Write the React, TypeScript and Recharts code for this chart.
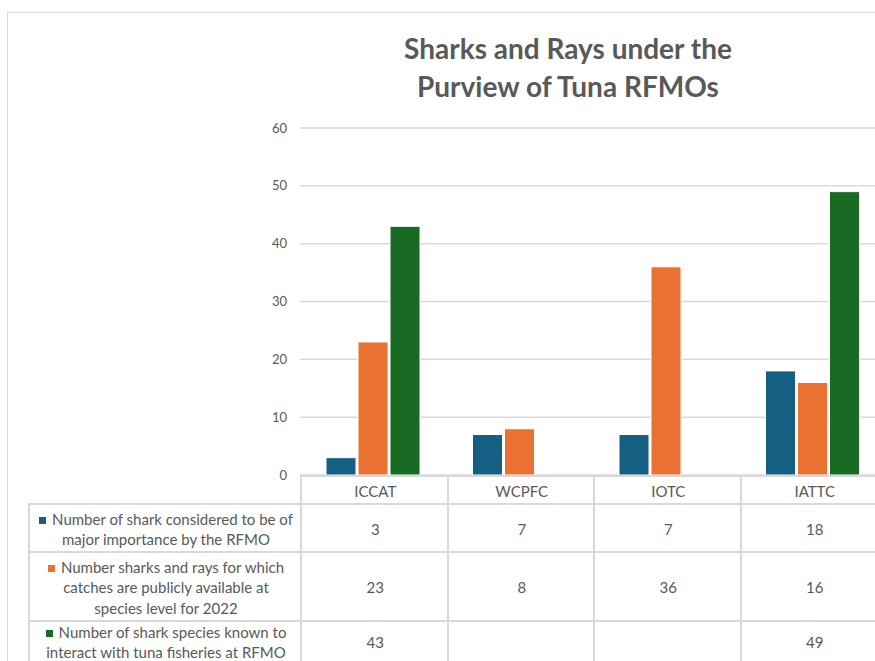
import { BarChart, Bar, XAxis, YAxis, CartesianGrid } from "recharts";

const categories = ["ICCAT", "WCPFC", "IOTC", "IATTC"];
const majorImportance = [3, 7, 7, 18];
const catchesAvailable = [23, 8, 36, 16];
const knownInteract: (number | null)[] = [43, null, null, 49];
const seriesNames = [
  "Number of shark considered to be of major importance by the RFMO",
  "Number sharks and rays for which catches are publicly available at species level for 2022",
  "Number of shark species known to interact with tuna fisheries at RFMO",
];
const seriesColors = ["#156082", "#E97132", "#196B24"];
const yTicks = [0, 10, 20, 30, 40, 50, 60];

const chartData = categories.map((name, i) => ({
  name,
  major: majorImportance[i],
  catches: catchesAvailable[i],
  interact: knownInteract[i],
}));

const tableRows = [majorImportance, catchesAvailable, knownInteract];

const font = "Lato, 'Noto Sans', sans-serif";
const gray = "#595959";
const lineColor = "#d9d9d9";

// plot geometry
const plotLeft = 300;
const plotTop = 128;
const plotBottom = 475;
const colWidth = 146.5;
const rowTops = [503, 551, 620];
const rowHeights = [48, 69, 40];

export default function App() {
  const cellBase: React.CSSProperties = {
    position: "absolute",
    boxSizing: "border-box",
    borderTop: `2px solid ${lineColor}`,
    borderLeft: `2px solid ${lineColor}`,
    display: "flex",
    alignItems: "center",
    justifyContent: "center",
    textAlign: "center",
    color: gray,
    fontSize: 15,
    lineHeight: "20.5px",
    fontFamily: font,
  };

  return (
    <div
      style={{
        position: "absolute",
        left: 0,
        top: 0,
        width: 875,
        height: 661,
        overflow: "hidden",
        background: "#fff",
      }}
    >
      <div
        style={{
          position: "absolute",
          left: 7,
          top: 12,
          width: 1000,
          height: 1000,
          border: `1px solid ${lineColor}`,
        }}
      />
      <div
        style={{
          position: "absolute",
          left: 318,
          top: 29,
          width: 500,
          textAlign: "center",
          fontFamily: font,
          fontWeight: 700,
          fontSize: 28,
          lineHeight: "38px",
          color: gray,
        }}
      >
        Sharks and Rays under the
        <br />
        Purview of Tuna RFMOs
      </div>
      <div style={{ position: "absolute", left: 0, top: 0 }}>
        <BarChart
          width={plotLeft + colWidth * categories.length}
          height={plotBottom + 15}
          data={chartData}
          margin={{ top: plotTop, right: 0, bottom: 15, left: 0 }}
          barCategoryGap={26}
          barGap={2}
        >
          <CartesianGrid
            vertical={false}
            stroke={lineColor}
            strokeWidth={1.5}
          />
          <XAxis dataKey="name" hide />
          <YAxis
            width={plotLeft}
            domain={[0, 60]}
            ticks={yTicks}
            interval={0}
            axisLine={false}
            tickLine={false}
            tickMargin={7}
            tick={{ fill: gray, fontSize: 13, fontFamily: font }}
          />
          <Bar dataKey="major" name={seriesNames[0]} fill={seriesColors[0]} stroke="#fff" strokeWidth={1} isAnimationActive={false} />
          <Bar dataKey="catches" name={seriesNames[1]} fill={seriesColors[1]} stroke="#fff" strokeWidth={1} isAnimationActive={false} />
          <Bar dataKey="interact" name={seriesNames[2]} fill={seriesColors[2]} stroke="#fff" strokeWidth={1} isAnimationActive={false} />
        </BarChart>
      </div>

      {/* data table */}
      {categories.map((c, i) => (
        <div
          key={c}
          style={{
            ...cellBase,
            left: plotLeft + i * colWidth,
            top: plotBottom,
            width: colWidth + 2,
            height: rowTops[0] - plotBottom + 2,
            background: "#fff",
          }}
        >
          {c}
        </div>
      ))}
      {tableRows.map((vals, r) => (
        <div key={r}>
          <div
            style={{
              ...cellBase,
              left: 28,
              top: rowTops[r],
              width: plotLeft - 28 + 2,
              height: rowHeights[r] + 2,
              padding: "0 9px",
            }}
          >
            <div>
              <span
                style={{
                  display: "inline-block",
                  width: 7,
                  height: 7,
                  background: seriesColors[r],
                  marginRight: 6,
                  verticalAlign: "middle",
                }}
              />
              {seriesNames[r]}
            </div>
          </div>
          {vals.map((v, i) => (
            <div
              key={i}
              style={{
                ...cellBase,
                left: plotLeft + i * colWidth,
                top: rowTops[r],
                width: colWidth + 2,
                height: rowHeights[r] + 2,
              }}
            >
              {v ?? ""}
            </div>
          ))}
        </div>
      ))}
    </div>
  );
}
